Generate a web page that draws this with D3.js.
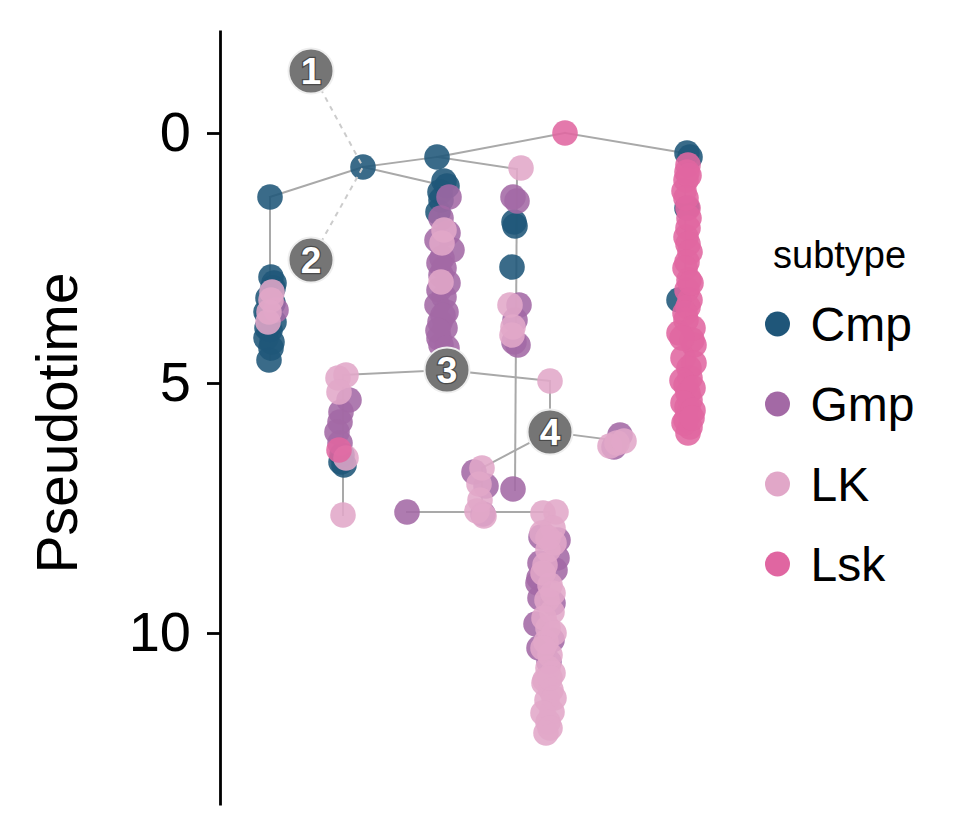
<!DOCTYPE html>
<html>
<head>
<meta charset="utf-8">
<script src="https://cdn.jsdelivr.net/npm/d3@7/dist/d3.min.js"></script>
<style>
  html, body { margin: 0; padding: 0; background: #fff; }
  svg { display: block; font-family: "Liberation Sans", Arial, Helvetica, sans-serif; }
</style>
</head>
<body>
<svg id="chart" width="955" height="834"></svg>
<script>
// ---------------- data ----------------
const subtypes = ["Cmp", "Gmp", "LK", "Lsk"];
const subtypeColors = ["#1f5679", "#a369a5", "#e1a7c8", "#e066a1"];
const yTicks = [0, 5, 10];
const yTitle = "Pseudotime";
const legendTitle = "subtype";

// cells: [component, pseudotime]
const cmpCells = [
  [10,1.28],[10.2,2.88],[10.8,3.0],[9.6,3.3],[10.6,3.4],[9.2,3.58],[10.8,3.78],[10,3.94],[9.2,4.1],[10.4,4.18],[9.8,4.54],
  [10.6,3.1],[9.4,3.9],[10.2,4.3],[9.6,3.62],
  [28.6,0.68],
  [43.4,0.48],[44.8,0.96],[45.4,1.06],[44,1.18],[44.2,1.34],[43.6,1.58],
  [58.8,1.78],[59,1.86],[58.4,2.68],
  [93.4,0.4],[94,0.48],[93.4,1.5],[91.8,3.34],
  [24.4,6.44],[24.2,6.58],[24.8,6.64]
];
const gmpCells = [
  [11.2,3.54],
  [45.8,1.28],[44.2,1.7],[43.4,2.14],[46.4,2.34],[44.4,2.5],[44.8,2.7],[44.2,2.84],[43.8,3.14],[44.8,3.28],[43.4,3.44],[45.2,3.58],[44,3.78],[45,3.9],[43.8,4.1],[44.2,4.24],
  [45.6,2.0],[43.8,2.6],[45.6,3.0],[44.6,3.65],[43.6,3.95],[45.4,4.3],
  [58.6,1.28],[59.4,1.36],[59.8,3.44],[59,3.74],[58.8,4.18],[59.6,4.24],[58.6,7.12],
  [25.8,5.34],[24.2,5.58],[24,5.78],[23.4,5.98],[24,6.2],
  [80,6.04],[78.8,6.28],
  [50.8,6.78],[53.2,7.06],[52.6,7.62],[37.4,7.58],
  [67.6,8.14],[64.2,8.08],[64,8.6],[67,8.74],[63.8,8.9],[64,9.3],[66.6,9.4],[63.2,9.82],[66.4,10.14],[65.8,10.58],
  [63.6,9.0],[63.8,10.3],[67.4,8.5]
];
const lkCells = [
  [10.4,3.18],[10.2,3.34],[9.8,3.58],[9.6,3.78],
  [44.8,1.94],[44.4,2.2],[44.2,2.98],
  [60.2,0.7],[58,3.44],[58.6,3.88],[58.4,4.04],
  [23.6,4.9],[25.2,4.84],[23.8,5.18],[25.2,6.5],[24.6,7.64],
  [66,4.96],
  [79.4,6.2],[78,6.26],[80.8,6.16],
  [52.4,6.7],[51.8,7.02],[52,7.34],[51.4,7.56],[52.8,7.66],
  [64.6,7.6],[67.2,7.58],[66.6,7.9],[65.6,8.34],[65,8.64],[66,9.04],[65.4,9.34],[66.4,9.58],[65.6,9.9],[65.2,10.18],[66,10.44],[65.6,10.7],[65,10.94],[66.2,11.14],[65.4,11.34],[66.4,11.58],[65.6,11.78],[65.2,12.0],
  [64.4,8.0],[66.8,8.2],[64.6,8.8],[66.6,9.2],[64.8,9.7],[66.8,10.0],[64.6,10.3],[66.6,10.8],[64.8,11.0],[66.8,11.3],[64.6,11.6],[66,11.9],[65.6,8.1],[66,10.9]
];
const lskCells = [
  [69,0],
  [23.8,6.34],
  [93.6,0.64],[93.4,0.78],[93.2,0.94],[92.8,1.16],[93.6,1.5],[93.6,1.9],[93.2,2.08],[93.6,2.22],[94,2.38],[93.4,2.58],[93.8,2.94],[93.4,3.14],[94,3.34],[93.6,3.48],[93.2,3.74],[91.8,4.0],[94.4,4.14],[94.8,4.24],
  [93.8,4.7],[94,4.9],[93.2,5.04],[93.6,5.2],[94,5.34],[93.4,5.48],[93.8,5.6],[93.2,5.74],[94,5.88],[93.6,6.0],
  [92.6,4.5],[94.8,4.6],[92.4,4.95],[94.6,5.1],[92.6,5.4],[94.6,5.55],[92.8,5.8],[94.4,5.7],
  [93.8,1.7],[93,2.7],[94.2,3.0],[93,3.6],[94.6,3.9],[92.4,4.1],[93.8,0.85],[93.2,1.3]
];

// tree nodes: [name, component, pseudotime]
const treeNodes = [
  ["A",28.6,0.68],["B",10,1.28],["Bend",10,4.54],
  ["C",43.4,0.48],["F",43.4,1.02],["H",45.4,4.74],
  ["D",69,0],["E",93,0.4],["Eend",93.2,6.0],
  ["G",59.4,0.72],["Gend",59,7.14],
  ["I",24.6,4.84],["Iend",24.6,7.64],
  ["J",66,4.96],["K",66,5.98],["L",80,6.16],
  ["M",52.4,6.7],["N",52.4,7.58],["O",37.4,7.58],["P",65.8,7.58],["Pend",65.8,12.0]
];
const treeEdges = [
  ["A","B"],["B","Bend"],["A","C"],["A","F"],["F","H"],["C","D"],["D","E"],["E","Eend"],
  ["C","G"],["G","Gend"],["H","I"],["I","Iend"],["H","J"],["J","K"],["K","L"],["K","M"],
  ["M","N"],["N","O"],["N","P"],["P","Pend"]
];
// branch point labels: [label, component, pseudotime, anchor node]
const branchLabels = [
  ["1",18.2,-1.24,"A"],["2",18.2,2.54,"A"],["3",45.4,4.74,"H"],["4",66,5.98,"K"]
];

// ---------------- drawing ----------------
const svg = d3.select("#chart");
const x = d3.scaleLinear().domain([0, 100]).range([220, 720]);
const y = d3.scaleLinear().domain([-2.06, 13.44]).range([30, 805]);
const color = d3.scaleOrdinal().domain(subtypes).range(subtypeColors);

const nodeMap = new Map(treeNodes.map(d => [d[0], d]));

// tree edges
svg.append("g").selectAll("line").data(treeEdges).join("line")
  .attr("x1", d => x(nodeMap.get(d[0])[1])).attr("y1", d => y(nodeMap.get(d[0])[2]))
  .attr("x2", d => x(nodeMap.get(d[1])[1])).attr("y2", d => y(nodeMap.get(d[1])[2]))
  .attr("stroke", "#a9a9a9").attr("stroke-width", 2).attr("stroke-linecap", "square");

// cells
const cellGroups = [cmpCells, gmpCells, lkCells, lskCells];
const cellsG = svg.append("g");
cellGroups.forEach((cells, i) => {
  cellsG.append("g").selectAll("circle").data(cells).join("circle")
    .attr("cx", d => x(d[0])).attr("cy", d => y(d[1])).attr("r", 12.8)
    .attr("fill", color(subtypes[i])).attr("fill-opacity", 0.88);
});

// dashed leaders for repelled labels
svg.append("g").selectAll("line").data(branchLabels.filter(d => {
    const n = nodeMap.get(d[3]); return n[1] !== d[1] || n[2] !== d[2];
  })).join("line")
  .attr("x1", d => x(d[1])).attr("y1", d => y(d[2]))
  .attr("x2", d => x(nodeMap.get(d[3])[1])).attr("y2", d => y(nodeMap.get(d[3])[2]))
  .attr("stroke", "#cccccc").attr("stroke-width", 2).attr("stroke-dasharray", "5,5");

// branch labels
const lab = svg.append("g").selectAll("g").data(branchLabels).join("g")
  .attr("transform", d => `translate(${x(d[1])},${y(d[2])})`);
lab.append("circle").attr("r", 22.5).attr("fill", "#757575")
  .attr("stroke", "#eeeeee").attr("stroke-width", 2);
lab.append("text").text(d => d[0])
  .attr("text-anchor", "middle").attr("dy", "0.36em")
  .attr("font-size", 37).attr("font-weight", "bold").attr("fill", "#fff")
  .attr("stroke", "#4a4a4a").attr("stroke-width", 2.5).attr("paint-order", "stroke");

// y axis
const axis = svg.append("g").attr("transform", "translate(220,0)")
  .call(d3.axisLeft(y).tickValues(yTicks).tickSize(13).tickPadding(16).tickSizeOuter(0));
axis.select(".domain").attr("stroke", "#000").attr("stroke-width", 2.8);
axis.selectAll(".tick line").attr("stroke", "#000").attr("stroke-width", 2.8);
axis.selectAll(".tick text").attr("font-size", 56).attr("fill", "#000")
  .attr("font-family", "'Liberation Sans', Arial, sans-serif");

svg.append("text").text(yTitle)
  .attr("transform", "translate(77,423) rotate(-90)")
  .attr("text-anchor", "middle").attr("font-size", 57).attr("fill", "#000");

// legend
const leg = svg.append("g");
leg.append("text").text(legendTitle).attr("x", 773).attr("y", 268)
  .attr("font-size", 38).attr("fill", "#000");
const li = leg.selectAll("g.item").data(subtypes).join("g").attr("class", "item")
  .attr("transform", (d, i) => `translate(777.5,${324 + i * 80})`);
li.append("circle").attr("r", 12.5).attr("fill", d => color(d));
li.append("text").text(d => d).attr("x", 33).attr("y", 17)
  .attr("font-size", 48).attr("fill", "#000");
</script>
</body>
</html>
